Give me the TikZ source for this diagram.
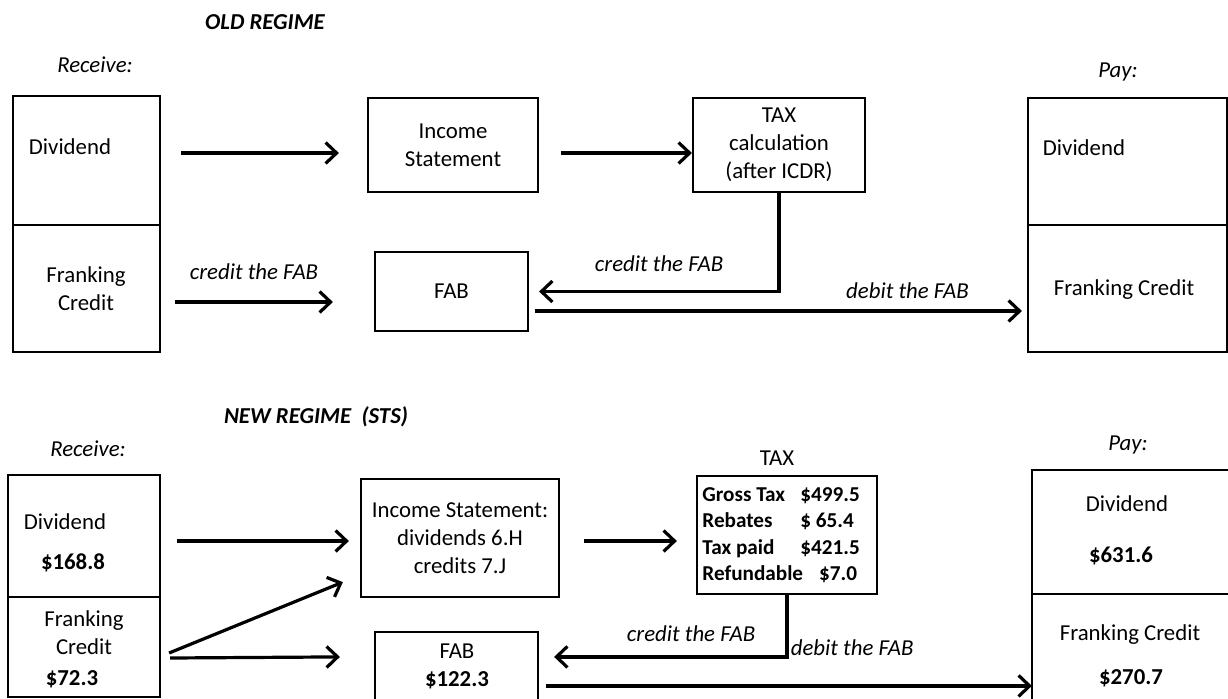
\documentclass[tikz,border=0pt]{standalone}
\usepackage{fontspec}
\setmainfont{Carlito}
\usetikzlibrary{arrows.meta,positioning}

\begin{document}
\begin{tikzpicture}[
      x=0.5pt,y=-0.5pt,
      every node/.style={font=\fontsize{11.4pt}{14pt}\selectfont},
      mybox/.style={
         rectangle,
         draw=black,
         line width=1.1pt,
         inner sep=0pt,
         align=center},
      mytext/.style={
         rectangle,
         inner sep=0pt,
         align=center},
      mylabel/.style={
         inner sep=0pt,
         font=\fontsize{11.4pt}{14pt}\selectfont\itshape},
      mytitle/.style={
         inner sep=0pt,
         font=\fontsize{11.4pt}{14pt}\selectfont\bfseries\itshape},
      mysum/.style={
         inner sep=0pt,
         font=\fontsize{11.4pt}{14pt}\selectfont\bfseries},
      myarrow/.style={line width=1.6pt,-{Straight Barb[length=5.5pt,width=10.5pt]}}
      ]
      \useasboundingbox (0,0) rectangle (1228,698);
      \clip (0,0) rectangle (1228,698);
      % old regime
      \node[mytitle] (t1) at (265,22) {OLD REGIME};
      \node[mylabel] (r1) at (95,65) {Receive:};
      \node[mylabel] (p1) at (1118,72) {Pay:};
      \node[mybox,minimum width=73.5pt,minimum height=64.5pt] (div1) at (86.5,160.5) {};
      \node[mybox,minimum width=73.5pt,minimum height=63.5pt] (fc1) at (86.5,288.5) {};
      \node[mybox,minimum width=85pt,minimum height=47pt] (inc1) at (453,145) {Income\\Statement};
      \node[mybox,minimum width=86pt,minimum height=47pt] (tax1) at (779,145) {TAX\\calculation\\(after ICDR)};
      \node[mybox,minimum width=76.5pt,minimum height=39.5pt] (fab1) at (451.5,291.5) {FAB};
      \node[mybox,minimum width=99.5pt,minimum height=63.5pt] (pdiv1) at (1127.5,161.5) {};
      \node[mybox,minimum width=99.5pt,minimum height=63.5pt] (pfc1) at (1127.5,288.5) {};
      \node[mytext] (d1) at (70,147) {Dividend};
      \node[mytext] (f1) at (86,289) {Franking\\Credit};
      \node[mytext] (pd1) at (1084,148) {Dividend};
      \node[mytext] (pf1) at (1124,290) {Franking Credit};
      \draw[myarrow] ([shift={(20,-7.5)}]div1.east) -- ([shift={(-28,8)}]inc1.west);
      \draw[myarrow] ([shift={(22,8)}]inc1.east) -- ([shift={(0,8)}]tax1.west);
      \draw[myarrow] ([shift={(14,13.5)}]fc1.east) -- node[mylabel,above=10.25pt] {credit the FAB} ([shift={(-41,10.5)}]fab1.west);
      \draw[myarrow] (tax1.south) |- node[mylabel,above=9.25pt,pos=0.75] {credit the FAB} ([xshift=5pt]fab1.east);
      \draw[myarrow] ([shift={(6,19.5)}]fab1.east) -- node[mylabel,above=5.25pt,pos=0.765] {debit the FAB} ([shift={(-5,22.5)}]pfc1.west);
      % new regime
      \node[mytitle] (t2) at (316,417) {NEW REGIME\ \ (STS)};
      \node[mylabel] (r2) at (88,449) {Receive:};
      \node[mylabel] (p2) at (1128,445) {Pay:};
      \node[mytext] (tx2) at (777,458) {TAX};
      \node[mybox,minimum width=76pt,minimum height=61pt] (div2) at (84,536) {};
      \node[mybox,minimum width=76pt,minimum height=50pt] (fc2) at (84,647) {};
      \node[mybox,minimum width=99pt,minimum height=59pt] (inc2) at (460,538) {Income Statement:\\dividends 6.H\\credits 7.J};
      \node[mybox,minimum width=90pt,minimum height=59pt] (tax2) at (787,535) {};
      \node[mybox,minimum width=81.5pt,minimum height=45pt] (fab2) at (456.5,677) {};
      \node[mybox,minimum width=104pt,minimum height=62pt] (pdiv2) at (1136,532) {};
      \node[mybox,minimum width=104pt,minimum height=64pt] (pfc2) at (1136,658) {};
      \node[mytext] (d2) at (65,522) {Dividend};
      \node[mysum] (dv2) at (73,563) {\$168.8};
      \node[mytext] (f2) at (84,632.5) {Franking\\Credit};
      \node[mysum] (fv2) at (72,679) {\$72.3};
      \node[mytext,anchor=west,align=left,font=\fontsize{10.6pt}{13.2pt}\selectfont\bfseries] (tt2) at (702,535)
         {\makebox[49pt][l]{Gross Tax}\$499.5\\
          \makebox[49pt][l]{Rebates}\$ 65.4\\
          \makebox[49pt][l]{Tax paid}\$421.5\\
          Refundable\hspace{8pt}\$7.0};
      \node[mytext] (fb2) at (457,666.5) {FAB\\\textbf{\$122.3}};
      \node[mytext] (pd2) at (1127,504) {Dividend};
      \node[mysum] (pdv2) at (1121,556) {\$631.6};
      \node[mytext] (pf2) at (1130,635) {Franking Credit};
      \node[mysum] (pfv2) at (1131,678) {\$270.7};
      \draw[myarrow] ([shift={(16,5)}]div2.east) -- ([shift={(-11,3)}]inc2.west);
      \draw[myarrow] ([shift={(8,6)}]fc2.east) -- ([shift={(-17,-16)}]inc2.south west);
      \draw[myarrow] ([shift={(9,11)}]fc2.east) -- ([shift={(-34,26)}]fab2.north west);
      \draw[myarrow] ([shift={(24,3)}]inc2.east) -- ([shift={(-19,6)}]tax2.west);
      \draw[myarrow] (tax2.south) |- node[mylabel,above=6.75pt,pos=0.706] {credit the FAB} ([shift={(15,26)}]fab2.north east);
      \draw[myarrow] ([shift={(7,55)}]fab2.north east) -- node[mylabel,above=14.25pt,pos=0.63] {debit the FAB} ([shift={(1,93)}]pfc2.north west);
\end{tikzpicture}
\end{document}
